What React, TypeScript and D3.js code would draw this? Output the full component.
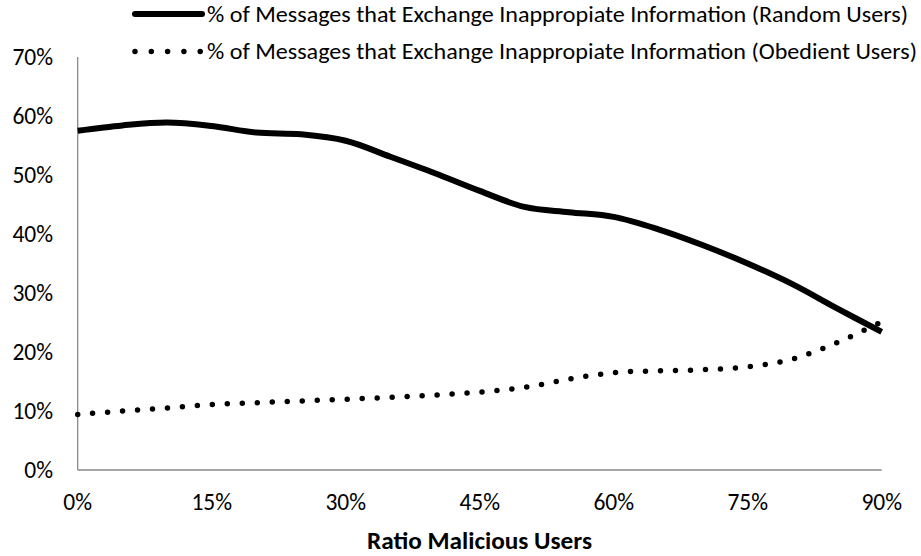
import { useEffect, useRef } from "react"
import * as d3 from "d3"

// categories are 5% steps, axis shows every 3rd label
const categories = [0, 5, 10, 15, 20, 25, 30, 35, 40, 45, 50, 55, 60, 65, 70, 75, 80, 85, 90]
const randomUsers = [57.5, 58.4, 58.9, 58.3, 57.2, 56.9, 55.8, 53.1, 50.3, 47.3, 44.6, 43.7, 42.9, 40.8, 38.1, 35.0, 31.5, 27.4, 23.4]
const obedientUsers = [9.4, 10.0, 10.5, 11.1, 11.4, 11.7, 12.0, 12.3, 12.7, 13.2, 14.0, 15.4, 16.5, 16.8, 17.0, 17.5, 18.8, 21.6, 25.1]
const yTicks = [0, 10, 20, 30, 40, 50, 60, 70]
const xTickLabels = [0, 15, 30, 45, 60, 75, 90]
const seriesNames = [
  "% of Messages that Exchange Inappropiate Information (Random Users)",
  "% of Messages that Exchange Inappropiate Information (Obedient Users)"
]
const xTitle = "Ratio Malicious Users"

const FONT = "Carlito, Calibri, 'Open Sans', sans-serif"

const App = () => {
  const svgRef = useRef<SVGSVGElement | null>(null)

  useEffect(() => {
    const width = 921
    const height = 556
    const left = 77.7
    const right = 881.7
    const top = 57
    const bottom = 470

    const svg = d3.select(svgRef.current)
      .attr("width", width)
      .attr("height", height)
    svg.selectAll("*").remove()

    const x = d3.scalePoint<number>().domain(categories).range([left, right])
    const y = d3.scaleLinear().domain([0, 70]).range([bottom, top])

    const axisColor = "#898989"

    // axes (no tick marks, no gridlines)
    svg.append("line")
      .attr("x1", left).attr("x2", left)
      .attr("y1", top).attr("y2", bottom)
      .attr("stroke", axisColor).attr("stroke-width", 1.3)
    svg.append("line")
      .attr("x1", left).attr("x2", right)
      .attr("y1", bottom).attr("y2", bottom)
      .attr("stroke", axisColor).attr("stroke-width", 1.3)

    svg.selectAll("text.ytick")
      .data(yTicks)
      .enter()
      .append("text")
      .attr("class", "ytick")
      .attr("x", 53)
      .attr("y", d => y(d))
      .attr("dy", "0.34em")
      .attr("text-anchor", "end")
      .style("font-family", FONT)
      .style("font-size", "23.5px")
      .attr("fill", "#000")
      .text(d => `${d}%`)

    svg.selectAll("text.xtick")
      .data(xTickLabels)
      .enter()
      .append("text")
      .attr("class", "xtick")
      .attr("x", d => x(d) as number)
      .attr("y", 502)
      .attr("dy", "0.34em")
      .attr("text-anchor", "middle")
      .style("font-family", FONT)
      .style("font-size", "23.5px")
      .attr("fill", "#000")
      .text(d => `${d}%`)

    svg.append("text")
      .attr("x", 367)
      .attr("y", 541.5)
      .attr("dy", "0.34em")
      .attr("textLength", 225)
      .attr("lengthAdjust", "spacingAndGlyphs")
      .style("font-family", FONT)
      .style("font-size", "23.5px")
      .style("font-weight", "bold")
      .attr("fill", "#000")
      .text(xTitle)

    const line = d3.line<number>()
      .x((_, i) => x(categories[i]) as number)
      .y(d => y(d))
      .curve(d3.curveCatmullRom.alpha(0.5))

    svg.append("path")
      .attr("d", line(randomUsers))
      .attr("fill", "none")
      .attr("stroke", "#000")
      .attr("stroke-width", 6)
      .attr("stroke-linejoin", "round")

    svg.append("path")
      .attr("d", line(obedientUsers))
      .attr("fill", "none")
      .attr("stroke", "#000")
      .attr("stroke-width", 5.5)
      .attr("stroke-linecap", "round")
      .attr("stroke-dasharray", "0 15")

    // legend
    const legendRows = [
      { name: seriesNames[0], y: 14, dash: null, w: 6, len: 701 },
      { name: seriesNames[1], y: 51.5, dash: "0 16.3", w: 5.5, len: 710 }
    ]
    const lg = svg.append("g")
    legendRows.forEach(r => {
      const l = lg.append("line")
        .attr("x1", 135).attr("x2", 202)
        .attr("y1", r.y).attr("y2", r.y)
        .attr("stroke", "#000")
        .attr("stroke-width", r.w)
        .attr("stroke-linecap", "round")
      if (r.dash) l.attr("stroke-dasharray", r.dash)
      lg.append("text")
        .attr("x", 207)
        .attr("y", r.y)
        .attr("dy", "0.34em")
        .attr("textLength", r.len)
        .attr("lengthAdjust", "spacingAndGlyphs")
        .style("font-family", FONT)
        .style("font-size", "23px")
        .attr("fill", "#000")
        .text(r.name)
    })
  }, [])

  return <svg ref={svgRef} style={{ position: "absolute", left: 0, top: 0 }}></svg>
}

export default App
